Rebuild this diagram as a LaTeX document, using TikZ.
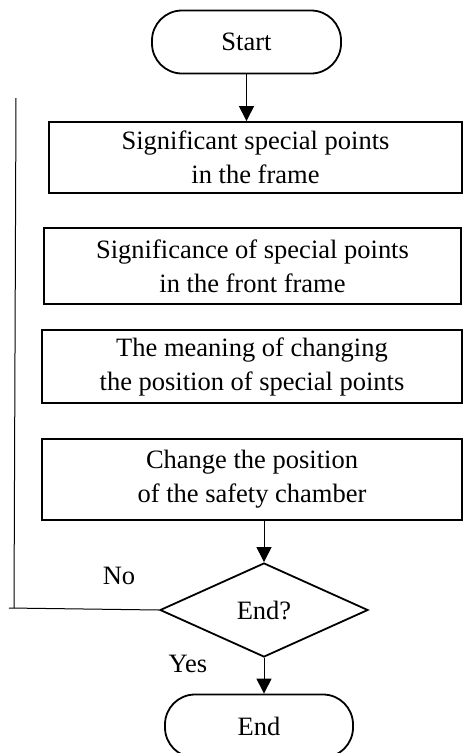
\documentclass[tikz,border=0pt]{standalone}
\usepackage{fontspec}
\setmainfont{Liberation Serif}
\usetikzlibrary{shapes.geometric,arrows.meta}
\begin{document}
\begin{tikzpicture}[x=1pt,y=-1pt,
  every node/.style={font=\fontsize{26.5}{34}\selectfont, inner sep=0pt},
  term/.style={draw, line width=1.8pt, rounded corners=30pt, minimum width=189pt, minimum height=63pt},
  procbox/.style={draw, line width=1.8pt, align=center, minimum width=420pt},
  decide/.style={draw, diamond, line width=1.8pt, minimum width=208pt, minimum height=94pt},
  conn/.style={line width=1pt},
  arr/.style={conn, -{Triangle[length=15pt,width=15pt]}}
]
\useasboundingbox (0,0) rectangle (463,753);
\node[term] (start) at (246.5,42) {Start};
\node[procbox, minimum width=413pt, minimum height=71pt] (b1) at (255.5,157.5) {Significant special points\\in the frame};
\node[procbox, minimum width=417pt, minimum height=76pt] (b2) at (252.5,266) {Significance of special points\\in the front frame};
\node[procbox, minimum height=73pt] (b3) at (252,366.5) {The meaning of changing\\the position of special points};
\node[procbox, minimum height=81pt] (b4) at (252,479.5) {Change the position\\of the safety chamber};
\node[decide] (dec) at (264,610) {End?};
\node[term, minimum width=188pt] (endn) at (259,726) {End};
\node (no) at (119,576) {No};
\node (yes) at (188,664) {Yes};
\coordinate (fbE) at (9,608);
\coordinate (fbB) at (14,608);
\coordinate (fbT) at (16,98);
\draw[arr] (start.south) -- (start.south |- b1.north);
\draw[arr] (dec.north |- b4.south) -- (dec.north);
\draw[arr] (dec.south) -- (dec.south |- endn.north);
\draw[conn] (dec.west) -- (fbE);
\draw[conn] (fbB) -- (fbT);
\end{tikzpicture}
\end{document}
